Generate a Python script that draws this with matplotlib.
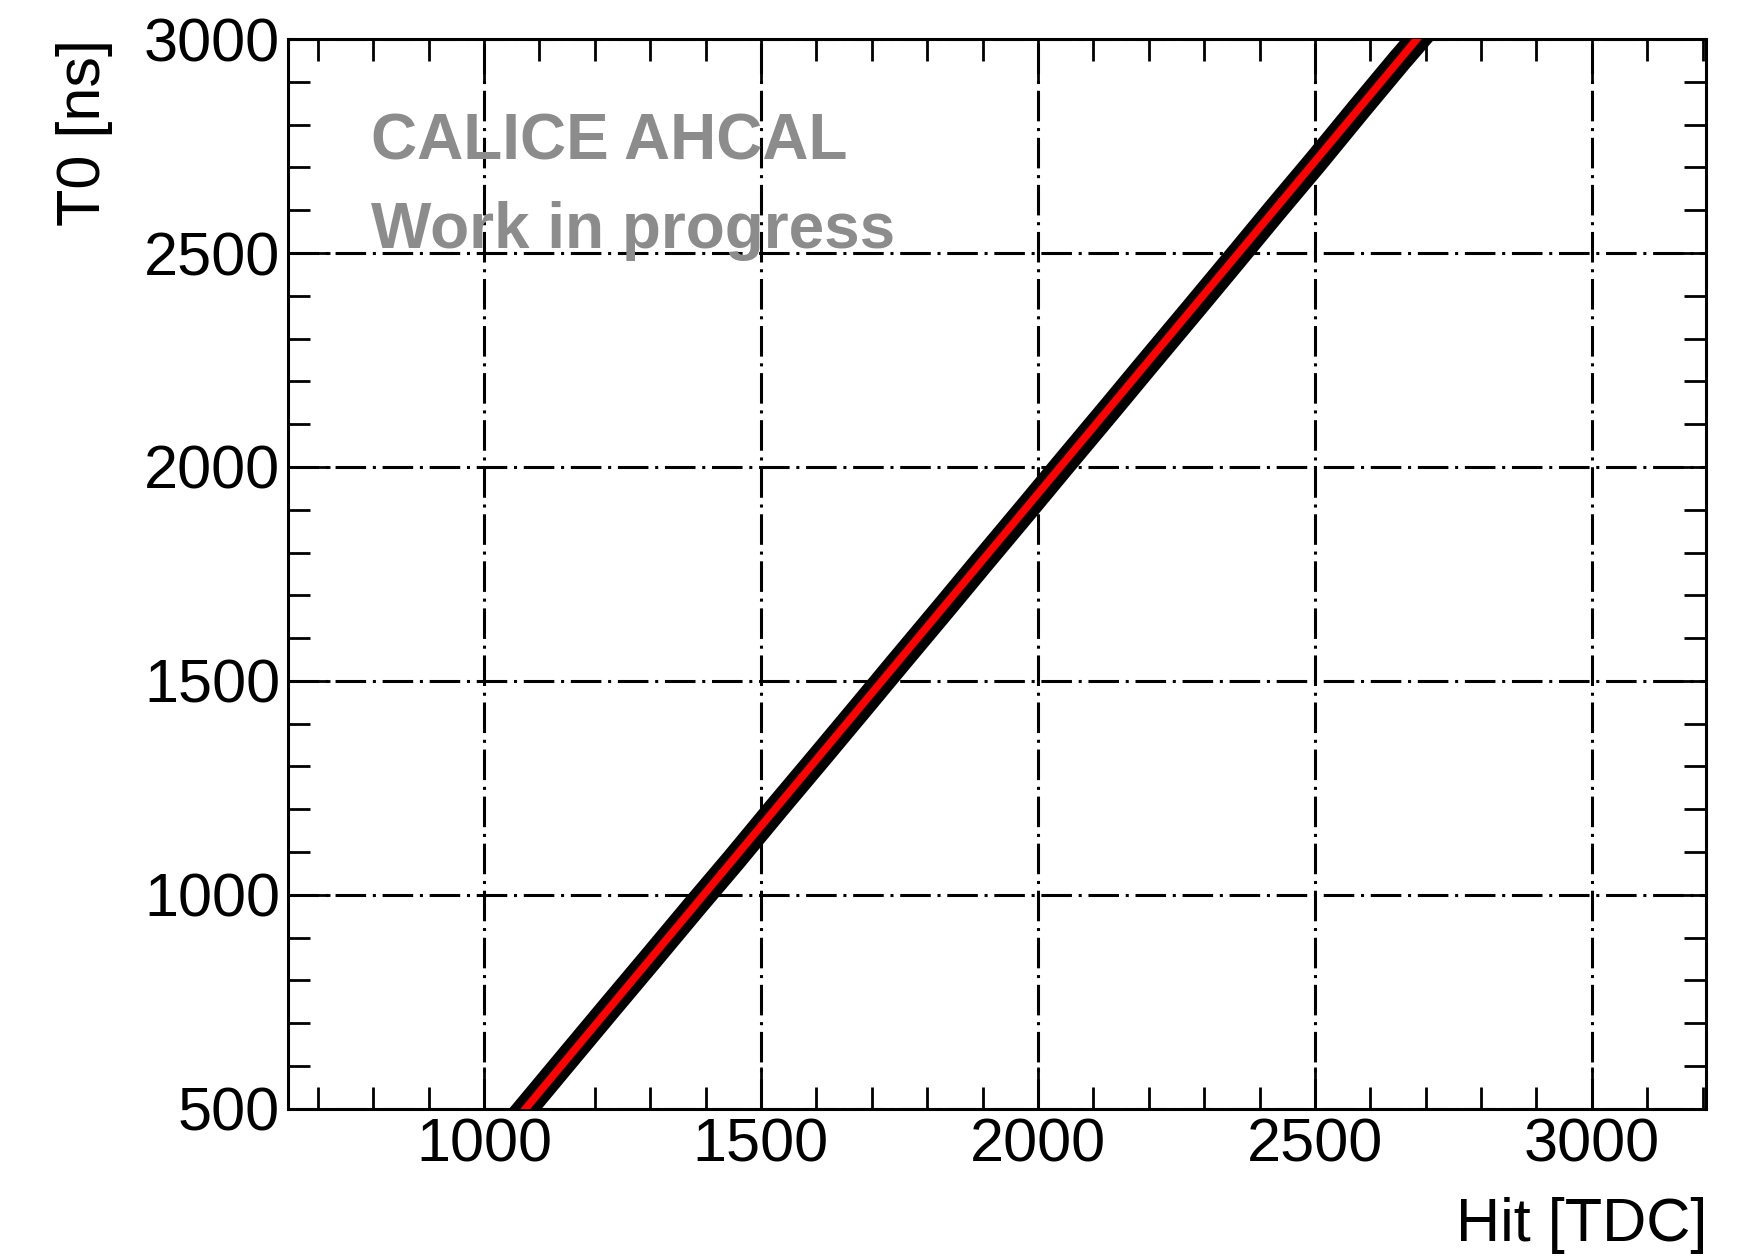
import matplotlib
matplotlib.use("Agg")
import matplotlib.pyplot as plt
from matplotlib.ticker import MultipleLocator

plt.rcParams['font.family'] = ['Liberation Sans', 'DejaVu Sans']

# hits (Hit [TDC] vs T0 [ns])
hit = [1078, 1150, 1228, 1302, 1380, 1452, 1528, 1602, 1680, 1748, 1832, 1898,
       1982, 2048, 2132, 2198, 2282, 2352, 2428, 2502, 2578, 2652, 2686]
t0 = [505, 617, 738, 852, 973, 1083, 1202, 1316, 1437, 1543, 1673, 1776,
      1906, 2009, 2139, 2242, 2372, 2481, 2600, 2714, 2834, 2949, 3000]

# linear fit endpoints
fit_hit = [1075, 2684]
fit_t0 = [500, 3000]

x_ticks = [1000, 1500, 2000, 2500, 3000]
y_ticks = [500, 1000, 1500, 2000, 2500, 3000]

fig = plt.figure(figsize=(17.53, 12.6), dpi=100)
ax = fig.add_axes([0.1645, 0.12, 0.8087, 0.849])

# hit band
ax.plot(hit, t0, color='black', lw=18, solid_joinstyle='round', zorder=3)
ax.plot(fit_hit, fit_t0, color='red', lw=5.5, zorder=4)

ax.set_xlim(647, 3206)
ax.set_ylim(500, 3000)
ax.set_xticks(x_ticks)
ax.set_yticks(y_ticks)
ax.xaxis.set_minor_locator(MultipleLocator(100))
ax.yaxis.set_minor_locator(MultipleLocator(100))

ax.grid(True, which='major', color='black', lw=2.2, ls=(0, (10, 2.2, 1, 2.2)))
ax.set_axisbelow(True)

ax.tick_params(which='both', direction='in', top=True, right=True,
               width=2, labelsize=44, colors='black')
ax.tick_params(which='major', length=30)
ax.tick_params(which='minor', length=16)
ax.tick_params(axis='y', pad=6)
ax.tick_params(axis='x', pad=6)
for s in ax.spines.values():
    s.set_linewidth(2.2)

fig.text(0.974, 0.027, 'Hit [TDC]', ha='right', va='center', fontsize=44)
fig.text(0.048, 0.969, 'T0 [ns]', ha='center', va='top', rotation=90, fontsize=44)

ax.text(0.058, 0.887, 'CALICE AHCAL', transform=ax.transAxes, color='#8c8c8c',
        fontsize=46, fontweight='bold', va='baseline')
ax.text(0.058, 0.805, 'Work in progress', transform=ax.transAxes, color='#8c8c8c',
        fontsize=46, fontweight='bold', va='baseline')

fig.savefig('out.png', dpi=100)
